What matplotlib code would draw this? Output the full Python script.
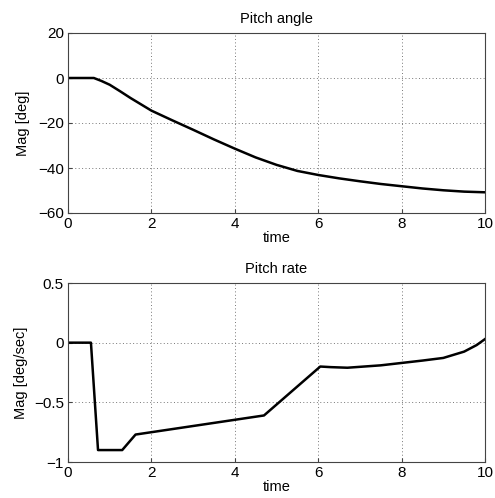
import matplotlib
matplotlib.use("Agg")
import matplotlib.pyplot as plt
import numpy as np

plt.rcParams['font.family'] = ['Liberation Sans', 'DejaVu Sans']
plt.rcParams['font.size'] = 10.5

# Pitch angle [deg] vs time
t_angle = [0, 0.62, 0.8, 1.0, 1.25, 1.5, 2.0, 2.5, 3.0, 3.5, 4.0, 4.5, 5.0, 5.5, 6.0,
           6.5, 7.0, 7.5, 8.0, 8.5, 9.0, 9.5, 10.0]
angle = [0, 0, -1.3, -3.0, -5.9, -8.9, -14.5, -18.8, -23.0, -27.3, -31.4, -35.3, -38.6,
         -41.3, -43.1, -44.6, -45.9, -47.1, -48.1, -49.1, -49.9, -50.5, -50.8]

# Pitch rate [deg/sec] vs time
t_rate = [0, 0.55, 0.72, 1.3, 1.62, 4.7, 6.05, 6.3, 6.7, 7.5, 8.0, 8.5, 9.0,
          9.5, 9.8, 10.0]
rate = [0, 0, -0.9, -0.9, -0.77, -0.61, -0.2, -0.205, -0.21, -0.19, -0.17,
        -0.15, -0.128, -0.075, -0.02, 0.03]

fig = plt.figure(figsize=(4.95, 4.98), dpi=100)
ax1 = fig.add_axes([68/495, 1-213/498, 417/495, 180/498])
ax2 = fig.add_axes([68/495, 1-462/498, 417/495, 179/498])

for ax in (ax1, ax2):
    ax.grid(True, linestyle=(0, (1, 2.5)), color='#777777', linewidth=0.7)
    for s in ax.spines.values():
        s.set_color('#444444')
        s.set_linewidth(0.8)
    ax.tick_params(direction='in', length=3, color='#444444', labelsize=11, pad=3)
    ax.set_xlim(0, 10)
    ax.set_xticks([0, 2, 4, 6, 8, 10])
    ax.set_xlabel('time', labelpad=0, fontsize=10.5)

ax1.plot(t_angle, angle, color='black', linewidth=1.8)
ax1.set_ylim(-60, 20)
ax1.set_yticks([-60, -40, -20, 0, 20])
ax1.set_yticklabels(['\u221260', '\u221240', '\u221220', '0', '20'])
ax1.set_ylabel('Mag [deg]', labelpad=6)
ax1.set_title('Pitch angle', fontsize=10.5, pad=7)

ax2.plot(t_rate, rate, color='black', linewidth=1.8)
ax2.set_ylim(-1, 0.5)
ax2.set_yticks([-1, -0.5, 0, 0.5])
ax2.set_yticklabels(['\u22121', '\u22120.5', '0', '0.5'])
ax2.set_ylabel('Mag [deg/sec]', labelpad=4)
ax2.set_title('Pitch rate', fontsize=10.5, pad=7)

fig.savefig('out.png', dpi=100)
